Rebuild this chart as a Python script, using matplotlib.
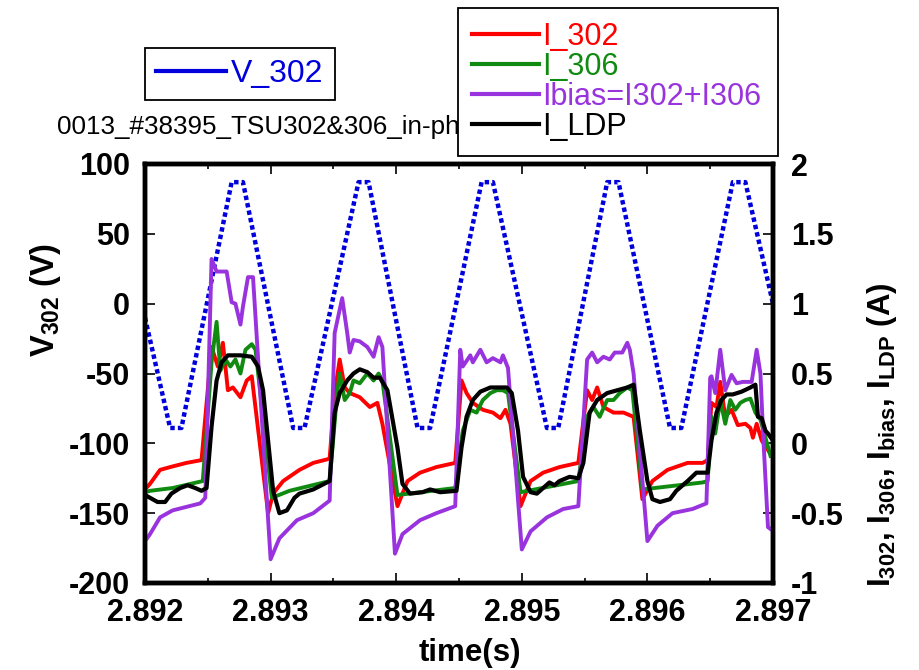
import numpy as np
import matplotlib.pyplot as plt
from matplotlib.lines import Line2D
from matplotlib.ticker import MultipleLocator, FormatStrFormatter, FuncFormatter

plt.rcParams['font.family'] = ['Liberation Sans', 'DejaVu Sans']
plt.rcParams['axes.unicode_minus'] = False
plt.rcParams['mathtext.fontset'] = 'custom'
plt.rcParams['mathtext.bf'] = 'Liberation Sans:bold'
plt.rcParams['mathtext.rm'] = 'Liberation Sans:bold'
plt.rcParams['mathtext.default'] = 'bf'

T0 = 2.892  # s, times below are in ms after T0

# V_302 (left axis, V) - triangular sweep, read at the corners
v_ms = [0.00, 0.20, 0.29, 0.69, 0.78, 1.18, 1.27, 1.70, 1.78, 2.17, 2.27, 2.68, 2.77,
        3.20, 3.29, 3.68, 3.77, 4.18, 4.27, 4.68, 4.78, 5.00]
v_302 = [-10, -89, -89, 87, 87, -89, -89, 87, 87, -89, -89, 87, 87,
         -89, -89, 87, 87, -89, -89, 87, 87, 0]

# I_302 (right axis, A)
r_ms = [0.00, 0.04, 0.12, 0.20, 0.33, 0.45, 0.53, 0.58, 0.62, 0.66, 0.70, 0.76, 0.81, 0.85, 0.98, 1.02, 1.10, 1.23, 1.34, 1.47,
        1.51, 1.55, 1.59, 1.63, 1.71, 1.79, 1.85, 1.89, 2.01, 2.09, 2.19, 2.32, 2.47,
        2.52, 2.56, 2.61, 2.69, 2.77, 2.83, 2.87, 2.91, 2.99, 3.07, 3.17, 3.30, 3.45,
        3.52, 3.56, 3.60, 3.65, 3.73, 3.81, 3.89, 3.96, 4.04, 4.16, 4.32, 4.44, 4.48,
        4.51, 4.55, 4.58, 4.62, 4.67, 4.72, 4.78, 4.82, 4.84, 4.87, 4.91, 4.99]
i_302 = [-0.33, -0.29, -0.19, -0.17, -0.14, -0.12, 0.69, 0.55, 0.72, 0.38, 0.40, 0.33, 0.45, 0.48, -0.50, -0.36, -0.27, -0.19, -0.14, -0.11,
         0.36, 0.60, 0.40, 0.36, 0.33, 0.26, 0.29, 0.14, -0.45, -0.27, -0.21, -0.17, -0.14,
         0.45, 0.36, 0.29, 0.24, 0.22, 0.18, 0.24, 0.14, -0.45, -0.27, -0.21, -0.17, -0.14,
         0.38, 0.31, 0.40, 0.26, 0.22, 0.22, 0.19, -0.40, -0.27, -0.19, -0.14, -0.14, -0.12,
         0.29, 0.26, 0.44, 0.19, 0.24, 0.13, 0.14, 0.11, 0.04, 0.14, 0.02, -0.09]

# I_306
g_ms = [0.00, 0.04, 0.22, 0.46, 0.53, 0.57, 0.60, 0.64, 0.68, 0.72, 0.76, 0.80, 0.85, 0.88, 1.01, 1.15, 1.47,
        1.53, 1.55, 1.59, 1.63, 1.66, 1.71, 1.77, 1.82, 1.86, 1.89, 2.01, 2.47,
        2.53, 2.59, 2.64, 2.69, 2.75, 2.80, 2.85, 2.89, 2.99, 3.45,
        3.52, 3.57, 3.62, 3.68, 3.73, 3.78, 3.84, 3.88, 3.96, 4.44, 4.48,
        4.51, 4.54, 4.58, 4.62, 4.66, 4.70, 4.74, 4.78, 4.82, 4.86, 4.90, 4.98]
i_306 = [-0.35, -0.34, -0.32, -0.27, 0.58, 0.87, 0.52, 0.60, 0.55, 0.60, 0.50, 0.67, 0.71, 0.67, -0.39, -0.34, -0.27,
         0.36, 0.50, 0.31, 0.36, 0.45, 0.43, 0.50, 0.45, 0.50, 0.45, -0.37, -0.32,
         0.09, 0.24, 0.22, 0.31, 0.36, 0.38, 0.38, 0.36, -0.35, -0.27,
         0.19, 0.26, 0.19, 0.31, 0.31, 0.36, 0.40, 0.38, -0.33, -0.28, -0.27,
         0.19, 0.07, 0.31, 0.14, 0.31, 0.24, 0.29, 0.31, 0.32, 0.22, 0.17, -0.09]

# Ibias = I302 + I306
p_ms = [0.00, 0.04, 0.12, 0.22, 0.44, 0.48, 0.53, 0.57, 0.65, 0.69, 0.72, 0.76, 0.78, 0.82, 0.86, 1.00, 1.07, 1.21, 1.34, 1.47,
        1.51, 1.57, 1.61, 1.63, 1.66, 1.71, 1.77, 1.82, 1.86, 1.89, 1.99, 2.05, 2.19, 2.32, 2.47,
        2.51, 2.53, 2.59, 2.61, 2.67, 2.72, 2.77, 2.83, 2.85, 2.89, 3.00, 3.07, 3.20, 3.33, 3.45,
        3.52, 3.56, 3.60, 3.65, 3.70, 3.74, 3.80, 3.84, 3.86, 3.89, 4.00, 4.08, 4.20, 4.36, 4.47,
        4.50, 4.51, 4.54, 4.58, 4.62, 4.67, 4.71, 4.76, 4.83, 4.87, 4.90, 4.92, 4.96, 4.99]
i_bias = [-0.70, -0.65, -0.53, -0.48, -0.43, -0.39, 1.32, 1.23, 1.23, 1.01, 1.00, 0.85, 0.98, 1.19, 1.19, -0.83, -0.68, -0.55, -0.50, -0.41,
          0.79, 1.04, 0.79, 0.65, 0.74, 0.73, 0.69, 0.62, 0.76, 0.69, -0.79, -0.65, -0.55, -0.50, -0.45,
          0.67, 0.55, 0.63, 0.58, 0.67, 0.58, 0.61, 0.58, 0.63, 0.54, -0.76, -0.63, -0.53, -0.47, -0.45,
          0.60, 0.65, 0.58, 0.62, 0.60, 0.65, 0.65, 0.72, 0.67, 0.50, -0.70, -0.59, -0.50, -0.47, -0.43,
          0.47, 0.48, 0.36, 0.67, 0.38, 0.49, 0.43, 0.44, 0.44, 0.67, 0.50, 0.09, -0.60, -0.62]

# I_LDP
k_ms = [0.00, 0.04, 0.10, 0.16, 0.21, 0.28, 0.34, 0.40, 0.45, 0.49, 0.53, 0.57, 0.61, 0.66, 0.76, 0.85, 0.90, 0.94, 0.98, 1.02, 1.07, 1.13, 1.19, 1.23, 1.34, 1.47,
        1.51, 1.55, 1.61, 1.66, 1.71, 1.77, 1.82, 1.87, 1.93, 2.01, 2.05, 2.11, 2.21, 2.27, 2.35, 2.48,
        2.52, 2.56, 2.61, 2.67, 2.75, 2.88, 2.92, 2.97, 3.01, 3.07, 3.12, 3.17, 3.22, 3.26, 3.30, 3.38, 3.45,
        3.49, 3.54, 3.60, 3.68, 3.76, 3.84, 3.89, 3.94, 4.00, 4.04, 4.10, 4.18, 4.23, 4.32, 4.39, 4.48,
        4.51, 4.55, 4.59, 4.63, 4.68, 4.75, 4.82, 4.86, 4.88, 4.91, 4.94, 4.96, 5.00]
i_ldp = [-0.37, -0.39, -0.42, -0.42, -0.36, -0.32, -0.30, -0.32, -0.34, -0.32, 0.12, 0.45, 0.58, 0.63, 0.63, 0.62, 0.55, 0.38, 0.02, -0.34, -0.50, -0.48, -0.39, -0.36, -0.33, -0.27,
         0.22, 0.36, 0.45, 0.50, 0.53, 0.51, 0.47, 0.47, 0.38, -0.03, -0.29, -0.36, -0.35, -0.33, -0.35, -0.34,
         -0.03, 0.19, 0.31, 0.37, 0.40, 0.40, 0.36, 0.09, -0.24, -0.35, -0.36, -0.32, -0.28, -0.30, -0.27, -0.24, -0.25,
         -0.14, 0.22, 0.31, 0.36, 0.38, 0.40, 0.42, 0.09, -0.27, -0.40, -0.42, -0.40, -0.34, -0.27, -0.21, -0.21,
         0.02, 0.22, 0.31, 0.35, 0.35, 0.37, 0.40, 0.42, 0.19, 0.18, 0.09, 0.07, 0.02]

c_blue = '#0000dd'
c_red = '#ff0000'
c_green = '#108a10'
c_purple = '#9933dd'


def to_s(ms):
    return T0 + np.array(ms) * 1e-3


fig = plt.figure(figsize=(9.2, 6.7), dpi=100)
ax = fig.add_axes([145 / 920, 1 - 583 / 670, (773 - 145) / 920, (583 - 164) / 670])
ax2 = ax.twinx()

ax.plot(to_s(v_ms), v_302, color=c_blue, lw=3.2, ls=(0, (1, 0.7)), dash_capstyle='butt')

ax2.plot(to_s(r_ms), i_302, color=c_red, lw=2.8)
ax2.plot(to_s(g_ms), i_306, color=c_green, lw=2.8)
ax2.plot(to_s(p_ms), i_bias, color=c_purple, lw=2.8)
ax2.plot(to_s(k_ms), i_ldp, color='black', lw=3.0)

ax.set_xlim(2.892, 2.897)
ax.set_ylim(-200, 100)
ax2.set_ylim(-1, 2)

ax.xaxis.set_major_locator(MultipleLocator(0.001))
ax.xaxis.set_minor_locator(MultipleLocator(0.0005))
ax.xaxis.set_major_formatter(FormatStrFormatter('%.3f'))
ax.yaxis.set_major_locator(MultipleLocator(50))
ax2.yaxis.set_major_locator(MultipleLocator(0.5))
ax2.yaxis.set_major_formatter(FuncFormatter(lambda v, p: '%g' % v))

ax.tick_params(axis='x', which='both', direction='in', top=True, bottom=True)
ax.tick_params(axis='x', which='major', length=7, width=1.2, labelsize=22, pad=11)
ax.tick_params(axis='x', which='minor', length=3.5, width=1.2)
ax.tick_params(axis='y', which='major', direction='in', length=7, width=1.2, labelsize=22, pad=11)
ax2.tick_params(axis='y', which='major', direction='in', length=7, width=1.2, labelsize=22, pad=13)
for lab in ax.get_xticklabels() + ax.get_yticklabels() + ax2.get_yticklabels():
    lab.set_fontweight('bold')

for a in (ax, ax2):
    for s in a.spines.values():
        s.set_linewidth(3.2)

ax.set_xlabel('time(s)', fontsize=22.5, fontweight='bold')
ax.xaxis.set_label_coords((470 - 145) / 628, (583 - 638) / 419)
ax.set_ylabel('V$_{302}$ (V)', fontsize=23.5, fontweight='bold')
ax.yaxis.set_label_coords((63 - 145) / 628, (583 - 300) / 419)
ax2.set_ylabel('I$_{302}$, I$_{306}$, I$_{bias}$, I$_{LDP}$ (A)', fontsize=22.5, fontweight='bold')
ax2.yaxis.set_label_coords((865 - 145) / 628, (583 - 435) / 419)

fig.text(57 / 920, 1 - 127 / 670, '0013_#38395_TSU302&306_in-ph', fontsize=18.7, va='center', ha='left')

leg1 = fig.legend(handles=[Line2D([], [], color=c_blue, lw=3)], labels=['V_302'],
                  loc='upper left', bbox_to_anchor=(145 / 920, 1 - 48 / 670), fontsize=23,
                  handlelength=2.2, handletextpad=0.15, borderpad=0.35, borderaxespad=0,
                  fancybox=False, edgecolor='black', framealpha=1, labelcolor='linecolor')
leg1.get_frame().set_linewidth(1.3)

hnd = [Line2D([], [], color=c_red, lw=3), Line2D([], [], color=c_green, lw=3),
       Line2D([], [], color=c_purple, lw=3), Line2D([], [], color='black', lw=3)]
leg2 = fig.legend(handles=hnd, labels=['I_302', 'I_306', 'Ibias=I302+I306', 'I_LDP'],
                  loc='upper left', bbox_to_anchor=(458 / 920, 1 - 155 / 670, 320 / 920, 147 / 670),
                  mode='expand', fontsize=22, handlelength=2.2, handletextpad=0.1,
                  borderpad=0.45, borderaxespad=0, labelspacing=0.0, fancybox=False,
                  edgecolor='black', framealpha=1, labelcolor='linecolor')
leg2.get_frame().set_linewidth(1.3)

fig.savefig('out.png', dpi=100)
